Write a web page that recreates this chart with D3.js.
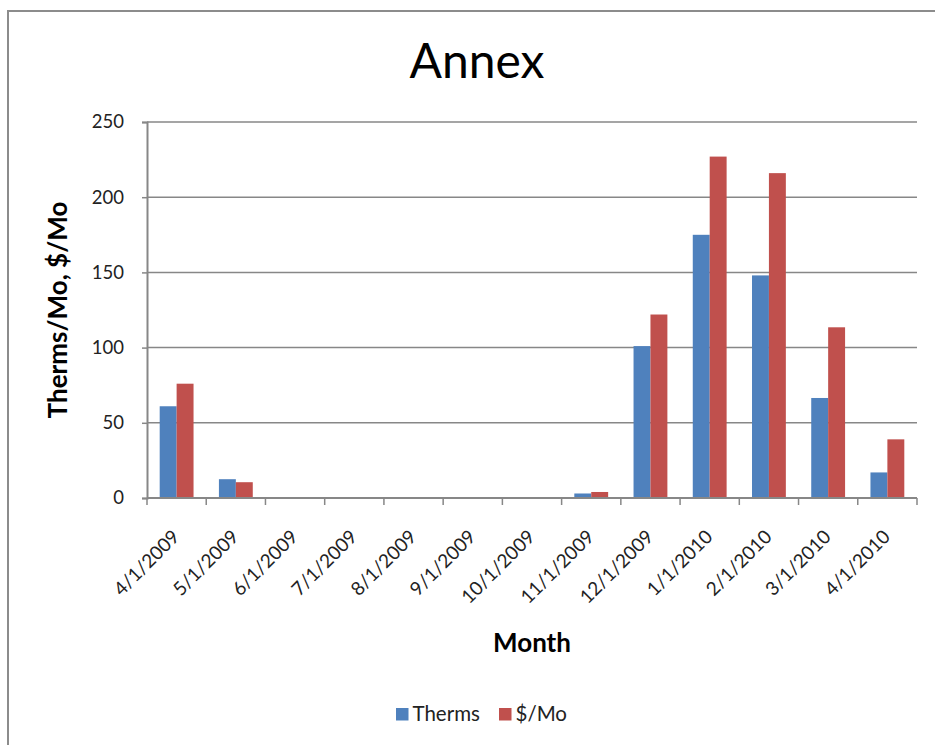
<!DOCTYPE html>
<html>
<head>
<meta charset="utf-8">
<script src="https://cdn.jsdelivr.net/npm/d3@7/dist/d3.min.js"></script>
<style>
  html, body { margin: 0; padding: 0; background: #fff; }
  svg { display: block; font-family: Lato, "Open Sans", sans-serif; }
</style>
</head>
<body>
<svg id="chart" width="935" height="745"></svg>
<script>
// Monthly gas use and cost for the Annex building
const months = ["4/1/2009", "5/1/2009", "6/1/2009", "7/1/2009", "8/1/2009", "9/1/2009",
  "10/1/2009", "11/1/2009", "12/1/2009", "1/1/2010", "2/1/2010", "3/1/2010", "4/1/2010"];
const therms = [61, 12.5, 0, 0.5, 0.5, 0, 0.3, 3, 101, 175, 148, 66.5, 17];
const dollars = [76, 10.5, 0, 0.5, 0.5, 0, 0, 4, 122, 227, 216, 113.5, 39];
const seriesNames = ["Therms", "$/Mo"];
const seriesColors = ["#4F81BD", "#C0504D"];
const yTicks = [0, 50, 100, 150, 200, 250];

const svg = d3.select("#chart");
const margin = { left: 147, right: 18, top: 122, bottom: 247 };
const W = 935, H = 745;
const plotW = W - margin.left - margin.right;
const plotH = H - margin.top - margin.bottom;
const gridColor = "#878787";

// chart frame
svg.append("path")
  .attr("d", `M8,${H} V11 H${W}`)
  .attr("fill", "none").attr("stroke", "#8c8c8c").attr("stroke-width", 2);

const g = svg.append("g").attr("transform", `translate(${margin.left},${margin.top})`);

const x = d3.scaleBand().domain(months).range([0, plotW]).paddingInner(0).paddingOuter(0);
const y = d3.scaleLinear().domain([0, 250]).range([plotH, 0]);

// bar groups: gap width 150% of a single bar
const barW = x.bandwidth() / 3.5;
const x1 = d3.scaleBand().domain(seriesNames).range([x.bandwidth() * 0.75 / 3.5, x.bandwidth() * 0.75 / 3.5 + 2 * barW]);

// horizontal gridlines
g.append("g").selectAll("line").data(yTicks.filter(d => d > 0)).join("line")
  .attr("x1", 0).attr("x2", plotW)
  .attr("y1", d => y(d)).attr("y2", d => y(d))
  .attr("stroke", gridColor).attr("stroke-width", 1.5);

// bars
const rows = months.map((m, i) => ({ month: m, values: [therms[i], dollars[i]] }));
g.append("g").selectAll("g").data(rows).join("g")
  .attr("transform", d => `translate(${x(d.month)},0)`)
  .selectAll("rect").data(d => d.values.map((v, j) => ({ key: seriesNames[j], v, j })))
  .join("rect")
  .attr("x", d => x1(d.key))
  .attr("width", x1.bandwidth())
  .attr("y", d => y(d.v))
  .attr("height", d => y(0) - y(d.v))
  .attr("fill", d => seriesColors[d.j]);

// y axis
const yAxis = g.append("g")
  .call(d3.axisLeft(y).tickValues(yTicks).tickSize(5).tickPadding(18).tickFormat(d3.format("d")));
yAxis.select(".domain").attr("stroke", gridColor).attr("stroke-width", 2);
yAxis.selectAll(".tick line").attr("stroke", gridColor).attr("stroke-width", 1.5);
yAxis.selectAll(".tick text").attr("font-size", 18.5).attr("fill", "#222")
  .attr("font-family", "Lato, sans-serif");

// x axis: ticks on category boundaries
const xAxisG = g.append("g").attr("transform", `translate(0,${plotH})`);
xAxisG.append("line").attr("x1", 0).attr("x2", plotW)
  .attr("stroke", gridColor).attr("stroke-width", 2);
xAxisG.selectAll("line.tk").data(d3.range(months.length + 1)).join("line")
  .attr("class", "tk")
  .attr("x1", i => i * x.step()).attr("x2", i => i * x.step())
  .attr("y1", 0).attr("y2", 7)
  .attr("stroke", gridColor).attr("stroke-width", 1.5);
xAxisG.selectAll("text").data(months).join("text")
  .attr("transform", d => `translate(${x(d) + x.bandwidth() / 2 + 4},40) rotate(-45)`)
  .attr("text-anchor", "end")
  .attr("font-size", 19).attr("fill", "#222")
  .text(d => d);

// titles
svg.append("text").attr("x", 477).attr("y", 78)
  .attr("text-anchor", "middle").attr("font-size", 48).attr("fill", "#000")
  .text("Annex");

svg.append("text").attr("x", margin.left + plotW / 2).attr("y", 652)
  .attr("text-anchor", "middle").attr("font-size", 26).attr("font-weight", "bold")
  .attr("fill", "#000").text("Month");

svg.append("text")
  .attr("transform", `translate(67,${margin.top + plotH / 2}) rotate(-90)`)
  .attr("text-anchor", "middle").attr("font-size", 26).attr("font-weight", "bold")
  .attr("fill", "#000").text("Therms/Mo, $/Mo");

// legend
const legend = svg.append("g").attr("transform", "translate(396,708)");
const items = legend.selectAll("g").data(seriesNames).join("g")
  .attr("transform", (d, i) => `translate(${i === 0 ? 0 : 103},0)`);
items.append("rect").attr("width", 12.5).attr("height", 12.5)
  .attr("fill", (d, i) => seriesColors[i]);
items.append("text").attr("x", 16.5).attr("y", 12.7)
  .attr("font-size", 20.5).attr("fill", "#222").text(d => d);
</script>
</body>
</html>
